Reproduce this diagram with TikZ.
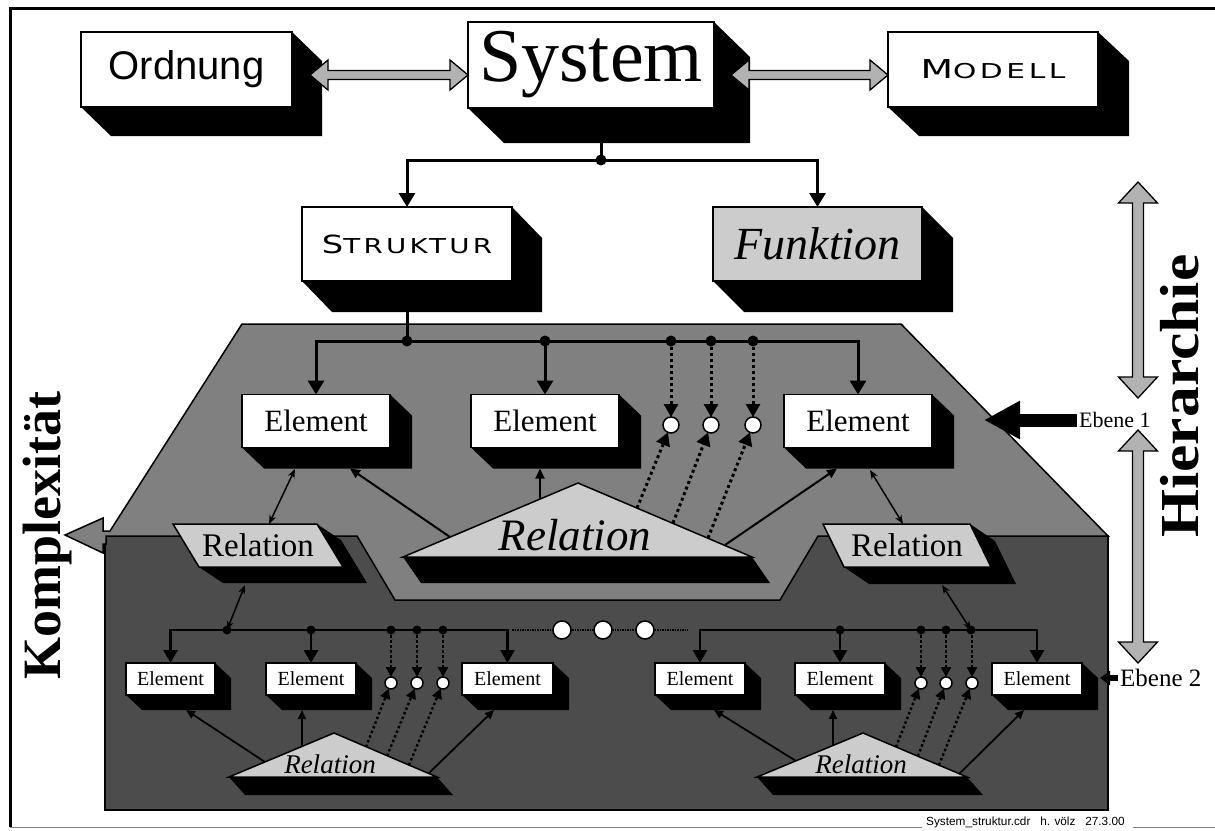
\documentclass[tikz,border=0pt]{standalone}
\usepackage{graphicx}
\usepackage{fontspec}
\setmainfont{Liberation Serif}
\newfontfamily\arialf{Liberation Sans}
\newfontfamily\widef[LetterSpace=12]{DejaVu Sans}
\usetikzlibrary{arrows.meta,calc}
\definecolor{regmid}{gray}{0.50}
\definecolor{regdark}{gray}{0.30}
\definecolor{boxlight}{gray}{0.80}
\definecolor{arrfill}{gray}{0.70}
\newcommand{\boxshadow}[3]{\fill[black] (#1.north east) -- ($(#1.north east)+(#2,#3)$) -- ($(#1.south east)+(#2,#3)$) -- ($(#1.south west)+(#2,#3)$) -- (#1.south west) -- (#1.south east) -- cycle;}
\newcommand{\hdarrow}[2]{\filldraw[bigarr] (#1) -- ($(#1)+(18,-15)$) -- ($(#1)+(18,-4.5)$) -- ($(#2)+(-18,-4.5)$) -- ($(#2)+(-18,-15)$) -- (#2) -- ($(#2)+(-18,15)$) -- ($(#2)+(-18,4.5)$) -- ($(#1)+(18,4.5)$) -- ($(#1)+(18,15)$) -- cycle;}
\newcommand{\vdarrow}[2]{\filldraw[bigarr] (#1) -- ($(#1)+(19.5,21)$) -- ($(#1)+(5.5,21)$) -- ($(#2)+(5.5,-21)$) -- ($(#2)+(19.5,-21)$) -- (#2) -- ($(#2)+(-19.5,-21)$) -- ($(#2)+(-5.5,-21)$) -- ($(#1)+(-5.5,21)$) -- ($(#1)+(-19.5,21)$) -- cycle;}
\newcommand{\reltri}[5]{%
  \fill[black] (#2) -- ($(#2)+(#4,#5)$) -- ($(#3)+(#4,#5)$) -- (#3) -- cycle;
  \filldraw[fill=boxlight, line width=1.5pt, line join=miter] (#1) -- (#2) -- (#3) -- cycle;}
\newcommand{\relpar}[6]{%
  \fill[black] ($(#1)+(#2-#4,-#3)$) -- ($(#1)+(#2-#4+#5,-#3+#6)$) -- ($(#1)+(#2+#4+#5,#3+#6)$) -- ($(#1)+(-#2+#4+#5,#3+#6)$) -- ($(#1)+(-#2+#4,#3)$) -- ($(#1)+(#2+#4,#3)$) -- cycle;
  \filldraw[fill=boxlight, line width=1.5pt, line join=miter] ($(#1)+(-#2-#4,-#3)$) -- ($(#1)+(#2-#4,-#3)$) -- ($(#1)+(#2+#4,#3)$) -- ($(#1)+(-#2+#4,#3)$) -- cycle;}
\tikzset{
 frontbox/.style={draw=black, line width=1.5pt, fill=white, inner sep=0pt, outer sep=0pt},
 bus/.style={line width=3pt},
 busarrow/.style={line width=3pt, -{Triangle[length=14pt,width=16pt]}},
 busarrowsm/.style={line width=2.6pt, -{Triangle[length=13pt,width=14pt]}},
 dotarrow/.style={line width=3pt, dash pattern=on 3pt off 3pt, -{Triangle[length=13pt,width=14pt]}},
 dotarrowsm/.style={line width=2.4pt, dash pattern=on 2.5pt off 2.5pt, -{Triangle[length=10pt,width=10pt]}},
 relarrow/.style={line width=2pt, -{Triangle[length=10pt,width=9pt]}},
 relarrowsm/.style={line width=1.8pt, -{Triangle[length=9pt,width=8pt]}},
 thindbl/.style={line width=1.5pt, {Stealth[length=9pt,width=7pt]}-{Stealth[length=9pt,width=7pt]}},
 bigarr/.style={fill=arrfill, draw=black, line width=1.3pt, line join=miter},
 ring/.style={circle, draw=black, fill=white, line width=1.5pt, inner sep=0pt, outer sep=0pt},
 elbig/.style={frontbox, minimum width=148pt, minimum height=53pt, font=\fontsize{31}{31}\selectfont},
 elsmall/.style={frontbox, minimum width=90pt, minimum height=32pt, font=\fontsize{20}{20}\selectfont},
}
\begin{document}
\begin{tikzpicture}[x=1pt,y=-1pt]
\useasboundingbox (0,0) rectangle (1215,830);
\fill[white] (0,0) rectangle (1215,830);

% frame and footer
\draw[line width=3pt] (1215,8) -- (10,8) -- (10,827);
\node[anchor=base west, font=\arialf\fontsize{11.8}{11.8}\selectfont, inner sep=0] (foot) at (926,825.5) {System\_struktur.cdr\ \ \ h. völz\ \ \ 27.3.00};
\draw[gray, line width=1pt] (10,827) -- ($(foot.west |- 0,827)+(-4,0)$);
\draw[gray, line width=1pt] ($(foot.east |- 0,827)+(8,0)$) -- (1215,827);

% regions
\filldraw[fill=regdark, line width=1.5pt] (105,536) rectangle (1108,810);
\filldraw[fill=regmid, line width=1.5pt, line join=miter] (242,324) -- (901,324) -- (1108,536) -- (818,536) -- (780,600) -- (395,600) -- (357,536) -- (106,536) -- (106,544) -- (103,544) -- (103,553) -- (65,535) -- (103,518) -- (103,531) -- (110,531) -- cycle;

% top row
\node[frontbox, minimum width=211pt, minimum height=75pt] (ord) at (186.5,69.5) {\arialf\fontsize{40}{40}\selectfont Ordnung};
\boxshadow{ord}{30}{29}
\node[frontbox, minimum width=246pt, minimum height=86pt] (sys) at (591,65) {\fontsize{76}{76}\selectfont System};
\boxshadow{sys}{36}{35}
\node[frontbox, minimum width=210pt, minimum height=75pt] (mod) at (993,69.5) {\scalebox{1.45}[1]{\widef\fontsize{26}{26}\selectfont M\fontsize{20.5}{20.5}\selectfont ODELL}};
\boxshadow{mod}{31}{29}
\coordinate (a1s) at ($(ord.east)+(18,5.5)$);
\coordinate (a1e) at (sys.west |- a1s);
\hdarrow{a1s}{a1e}
\coordinate (a2s) at ($(sys.east)+(17,10)$);
\coordinate (a2e) at (mod.west |- a2s);
\hdarrow{a2s}{a2e}

% second row
\node[frontbox, minimum width=210pt, minimum height=74pt] (struk) at (407,244) {\scalebox{1.35}[1]{\widef\fontsize{25}{25}\selectfont S\fontsize{20.5}{20.5}\selectfont TRUKTUR}};
\boxshadow{struk}{30}{31}
\node[frontbox, fill=boxlight, minimum width=209pt, minimum height=74pt] (funk) at (817.5,244) {\itshape\fontsize{46}{46}\selectfont Funktion};
\boxshadow{funk}{31}{31}
\coordinate (sysd) at ($(sys.south)+(10,52)$);
\draw[bus] ($(sys.south)+(10,35)$) -- (sysd);
\draw[busarrow] (sysd) -| (struk.north);
\draw[busarrow] (sysd) -| (funk.north);
\fill (sysd) circle[radius=5.5pt];

% level 1
\coordinate (b1) at ($(struk.south)+(0,60)$);
\draw[bus] ($(struk.south)+(0,31)$) -- (b1);
\node[elbig] (e1) at (316,421) {Element};
\boxshadow{e1}{22}{21}
\node[elbig] (e2) at (545,421) {Element};
\boxshadow{e2}{22}{21}
\node[elbig] (e3) at (858,421) {Element};
\boxshadow{e3}{22}{21}
\draw[busarrow] (b1) -| (e1.north);
\draw[busarrow] (b1) -| (e3.north);
\draw[busarrow] (e2.north |- b1) -- (e2.north);
\node[ring, minimum size=16pt] (c1) at (671,425) {};
\node[ring, minimum size=16pt] (c2) at (711,425) {};
\node[ring, minimum size=16pt] (c3) at (753,425) {};
\draw[dotarrow] (c1 |- b1) -- (c1);
\draw[dotarrow] (c2 |- b1) -- (c2);
\draw[dotarrow] (c3 |- b1) -- (c3);
\foreach \p in {b1, e2.north |- b1, c1 |- b1, c2 |- b1, c3 |- b1} \fill (\p) circle[radius=5.5pt];

% big relation triangle
\coordinate (ta) at (578,483);
\coordinate (tb) at (403,557);
\coordinate (tc) at (752,557);
\reltri{ta}{tb}{tc}{18}{26}
\node[anchor=base, inner sep=0, font=\itshape\fontsize{45}{45}\selectfont] (rbig) at (575,550) {Relation};
\coordinate (t1) at (450,537);
\coordinate (t2) at (540,499);
\coordinate (t3) at (725,545);
\draw[relarrow] (t1) -- ($(e1.south)+(34,21)$);
\draw[relarrow] (t2) -- ($(e2.south)+(-5,21)$);
\draw[relarrow] (t3) -- ($(e3.south)+(-21,21)$);
\coordinate (t4) at (637,508);
\coordinate (t5) at (673,523);
\coordinate (t6) at (708,538);
\draw[dotarrow] (t4) -- (c1);
\draw[dotarrow] (t5) -- (c2);
\draw[dotarrow] (t6) -- (c3);

% relation parallelograms
\coordinate (rlc) at (258,545.5);
\relpar{rlc}{72}{21.5}{13}{24}{16}
\node[inner sep=0, font=\fontsize{33}{33}\selectfont] (rl) at (rlc) {Relation};
\coordinate (rrc) at (907,545.5);
\relpar{rrc}{73.5}{21.5}{10.5}{25}{17}
\node[inner sep=0, font=\fontsize{33}{33}\selectfont] (rr) at (rrc) {Relation};

% level 2 buses
\coordinate (bL) at (227,630);
\coordinate (bR) at (971,630);
\draw[thindbl] ($(e1.south)+(-21,21.5)$) -- ($(rlc)+(11,-21.5)$);
\draw[thindbl] ($(rlc)+(-13,39.5)$) -- (bL);
\draw[thindbl] ($(e3.south)+(12,22.5)$) -- ($(rrc)+(-4,-21.5)$);
\draw[thindbl] ($(rrc)+(35,39.5)$) -- (bR);

% level 2 left
\node[elsmall, minimum width=89pt] (ea) at (170.5,679) {Element};
\boxshadow{ea}{16}{15}
\node[elsmall] (eb) at (311,679) {Element};
\boxshadow{eb}{16}{15}
\node[elsmall, minimum width=91pt] (ec) at (507.5,679) {Element};
\boxshadow{ec}{16}{15}
\draw[busarrowsm] (bL) -| (ea.north);
\draw[busarrowsm] (bL) -| (ec.north);
\draw[busarrowsm] (eb.north |- bL) -- (eb.north);
\node[ring, minimum size=12pt] (d1) at (391,683) {};
\node[ring, minimum size=12pt] (d2) at (417,683) {};
\node[ring, minimum size=12pt] (d3) at (443,683) {};
\draw[dotarrowsm] (d1 |- bL) -- (d1);
\draw[dotarrowsm] (d2 |- bL) -- (d2);
\draw[dotarrowsm] (d3 |- bL) -- (d3);
\foreach \p in {bL, eb.north |- bL, d1 |- bL, d2 |- bL, d3 |- bL} \fill (\p) circle[radius=4.5pt];
\coordinate (ua) at (334,733);
\coordinate (ub) at (229,777);
\coordinate (uc) at (437,777);
\reltri{ua}{ub}{uc}{16}{18}
\node[anchor=base, inner sep=0, font=\itshape\fontsize{27}{27}\selectfont] (rlow1) at (330,773) {Relation};
\draw[relarrowsm] (265,762) coordinate (u1) -- ($(ea.south)+(15.5,15)$);
\draw[relarrowsm] (302,746) coordinate (u2) -- ($(eb.south)+(-9,15)$);
\draw[relarrowsm] (429,773) coordinate (u3) -- ($(ec.south)+(-13.5,15)$);
\draw[dotarrowsm] (366,747) coordinate (u4) -- (d1);
\draw[dotarrowsm] (387,756) coordinate (u5) -- (d2);
\draw[dotarrowsm] (409,765) coordinate (u6) -- (d3);

% middle dotted line with circles
\coordinate (m0) at (512,630);
\coordinate (m4) at (688,630);
\draw[line width=1.5pt, densely dotted] (m0) -- (m4);
\node[ring, minimum size=18pt] (mc1) at (562,630) {};
\node[ring, minimum size=18pt] (mc2) at (603,630) {};
\node[ring, minimum size=18pt] (mc3) at (645,630) {};

% level 2 right
\node[elsmall] (ed) at (700,679) {Element};
\boxshadow{ed}{16}{15}
\node[elsmall] (ee) at (840,679) {Element};
\boxshadow{ee}{16}{15}
\node[elsmall] (ef) at (1037,679) {Element};
\boxshadow{ef}{16}{15}
\draw[busarrowsm] (bR) -| (ed.north);
\draw[busarrowsm] (bR) -| (ef.north);
\draw[busarrowsm] (ee.north |- bR) -- (ee.north);
\node[ring, minimum size=12pt] (f1) at (921,683) {};
\node[ring, minimum size=12pt] (f2) at (946,683) {};
\node[ring, minimum size=12pt] (f3) at (972,683) {};
\draw[dotarrowsm] (f1 |- bR) -- (f1);
\draw[dotarrowsm] (f2 |- bR) -- (f2);
\draw[dotarrowsm] (f3 |- bR) -- (f3);
\foreach \p in {bR, ee.north |- bR, f1 |- bR, f2 |- bR} \fill (\p) circle[radius=4.5pt];
\coordinate (va) at (863,733);
\coordinate (vb) at (757,777);
\coordinate (vc) at (967,777);
\reltri{va}{vb}{vc}{16}{18}
\node[anchor=base, inner sep=0, font=\itshape\fontsize{27}{27}\selectfont] (rlow2) at (861,773) {Relation};
\draw[relarrowsm] (796,761) coordinate (v1) -- ($(ed.south)+(14,15)$);
\draw[relarrowsm] (833,745) coordinate (v2) -- ($(ee.south)+(-7,15)$);
\draw[relarrowsm] (959,774) coordinate (v3) -- ($(ef.south)+(-13,15)$);
\draw[dotarrowsm] (896,747) coordinate (v4) -- (f1);
\draw[dotarrowsm] (918,756) coordinate (v5) -- (f2);
\draw[dotarrowsm] (939,765) coordinate (v6) -- (f3);

% Ebene labels
\node[anchor=west, inner sep=2pt, font=\fontsize{22}{22}\selectfont] (eb1) at (1077,420) {Ebene 1};
\coordinate (eb1tip) at (984,420);
\draw[line width=13pt, -{Triangle[length=36pt,width=36pt]}] (eb1.west) -- (eb1tip);
\node[anchor=west, inner sep=2pt, font=\fontsize{25}{25}\selectfont] (eb2) at (1118,678) {Ebene 2};
\draw[line width=6pt, -{Triangle[length=10pt,width=14pt]}] (eb2.west) -- ($(ef.east)+(18,-1)$);

% Hierarchie arrows and texts
\coordinate (h1t) at (1138,182);
\coordinate (h1b) at (1138,398);
\coordinate (h2t) at (1138,430);
\coordinate (h2b) at (1138,663);
\vdarrow{h1t}{h1b}
\vdarrow{h2t}{h2b}
\node[rotate=90, anchor=base, inner sep=0, font=\bfseries\fontsize{55}{55}\selectfont] (hier) at (1198,396) {\scalebox{1.12}[1]{Hierarchie}};
\node[rotate=90, anchor=base, inner sep=0, font=\bfseries\fontsize{54}{54}\selectfont] (kompl) at (60,536) {Komplexität};
\end{tikzpicture}
\end{document}
